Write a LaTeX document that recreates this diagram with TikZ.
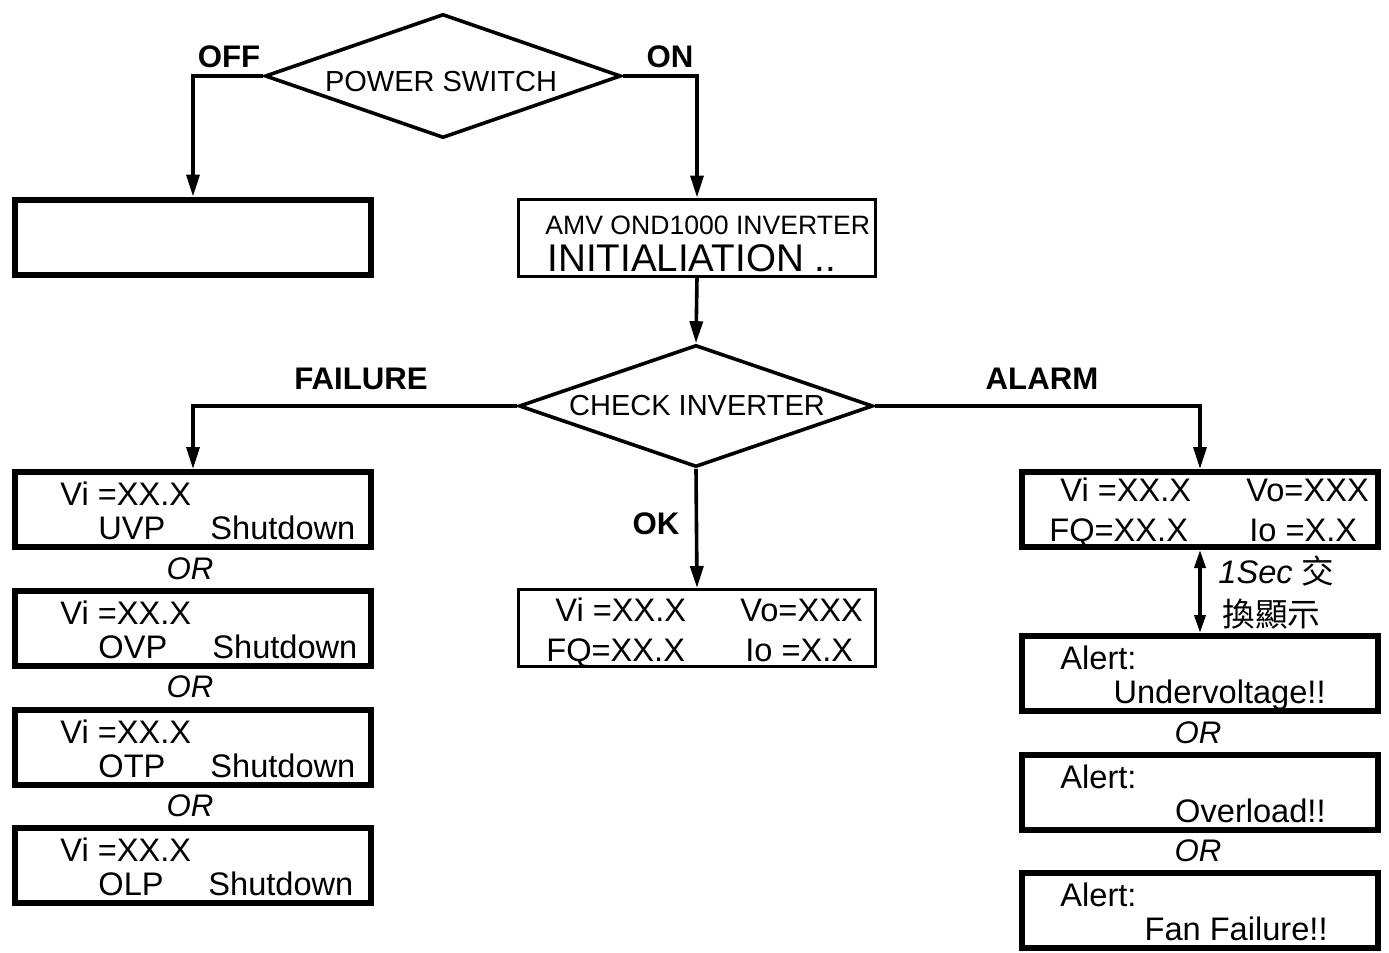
\documentclass[tikz,border=0pt]{standalone}
\usepackage{fontspec}
\setmainfont{Liberation Sans}
\newfontfamily\cjkfont{Noto Sans CJK TC}
\usetikzlibrary{shapes.geometric,arrows.meta,positioning,calc}

\tikzset{
  txt/.style={font=\fontsize{16.3}{19}\selectfont, inner sep=0pt},
  tag/.style={font=\fontsize{15.6}{18}\selectfont\bfseries, inner sep=0pt},
  ortag/.style={font=\fontsize{15.6}{18}\selectfont\itshape, inner sep=0pt},
  dtxt/.style={font=\fontsize{14.5}{17}\selectfont, inner sep=0pt},
  dia/.style={draw, line width=1.8pt, diamond, aspect=2.8, inner sep=0pt},
  cbox/.style={draw, line width=1.5pt, minimum width=178.5pt, minimum height=38.5pt, inner sep=0pt},
  sbox/.style={draw, line width=3pt, minimum width=178pt, minimum height=37.5pt, inner sep=0pt},
  arr/.style={line width=1.8pt, -{Triangle[length=11pt,width=6.5pt]}},
  dblarr/.style={line width=1.8pt, {Triangle[length=9pt,width=5.5pt]}-{Triangle[length=9pt,width=5.5pt]}}
}

\begin{document}
\begin{tikzpicture}[x=0.5pt,y=-0.5pt]
    \useasboundingbox (0,0) rectangle (1389,953);

    % top part
    \node[dia, minimum width=178pt, minimum height=62pt] (psw) at (443,76) {};
    \node[dtxt] (pswtxt) at (441,82) {POWER SWITCH};
    \node[tag] (off) at (229,57) {OFF};
    \node[tag] (on) at (670,57) {ON};

    \node[sbox] (offbox) at (193,237) {};
    \node[cbox] (init) at (697,237.5) {};
    \node[font=\fontsize{13.3}{16}\selectfont, inner sep=0pt, anchor=base west] (initA) at (545,234) {AMV OND1000 INVERTER};
    \node[font=\fontsize{19.3}{22}\selectfont, inner sep=0pt, anchor=base west] (initB) at (547,271) {INITIALIATION ..};

    \node[dia, minimum width=177pt, minimum height=61pt] (chk) at (696,406) {};
    \node[dtxt] (chktxt) at (697,406) {CHECK INVERTER};
    \node[tag] (failtag) at (361,379) {FAILURE};
    \node[tag] (alarmtag) at (1042,379) {ALARM};
    \node[tag] (oktag) at (656,524) {OK};

    % failure boxes
    \foreach \n/\yt/\code/\sx in {1/469/UVP/210, 2/588/OVP/212, 3/707/OTP/210, 4/825/OLP/208} {
        \node[sbox] (fail\n) at (193,\yt+40.5) {};
        \node[txt, anchor=base west] (fvi\n) at (60,\yt+36) {Vi =XX.X};
        \node[txt, anchor=base west] (fcode\n) at (98,\yt+70) {\code};
        \node[txt, anchor=base west] (fsd\n) at (\sx,\yt+70) {Shutdown};
    }
    \foreach \n/\y in {1/569, 2/687, 3/806}
        \node[ortag] (lor\n) at (190,\y) {OR};

    % ok box
    \node[cbox] (okbox) at (697,628) {};
    \node[txt, anchor=base west] (okvi) at (555,621) {Vi =XX.X};
    \node[txt, anchor=base west] (okvo) at (740,621) {Vo=XXX};
    \node[txt, anchor=base west] (okfq) at (546,661) {FQ=XX.X};
    \node[txt, anchor=base west] (okio) at (745,661) {Io =X.X};

    % alarm side
    \node[sbox] (alarm) at (1200,509.5) {};
    \node[txt, anchor=base west] (alvi) at (1060,501) {Vi =XX.X};
    \node[txt, anchor=base west] (alvo) at (1246,501) {Vo=XXX};
    \node[txt, anchor=base west] (alfq) at (1049,541) {FQ=XX.X};
    \node[txt, anchor=base west] (alio) at (1249,541) {Io =X.X};

    \foreach \n/\yt/\msg/\ex in {1/633/Undervoltage!!/1326, 2/752/Overload!!/1326, 3/870/Fan Failure!!/1328} {
        \node[sbox] (alert\n) at (1200,\yt+40.5) {};
        \node[txt, anchor=base west] (altxt\n) at (1060,\yt+36) {Alert:};
        \node[txt, anchor=base east] (almsg\n) at (\ex,\yt+70) {\msg};
    }
    \foreach \n/\y in {1/733, 2/851}
        \node[ortag] (ror\n) at (1198,\y) {OR};

    \node[txt, anchor=base west] (sec1) at (1218,583) {\textit{1Sec} {\cjkfont 交}};
    \node[txt, anchor=base west] (sec2) at (1222,626) {\cjkfont 換顯示};

    % connectors
    \draw[arr] (psw.west) -| (offbox.north);
    \draw[arr] (psw.east) -| (init.north);
    \draw[arr] (init.south) -- (chk.north);
    \draw[arr] (chk.west) -| (fail1.north);
    \draw[arr] (chk.east) -| (alarm.north);
    \draw[arr] (chk.south) -- (okbox.north);
    \draw[dblarr] (alarm.south) -- (alert1.north);
\end{tikzpicture}
\end{document}
